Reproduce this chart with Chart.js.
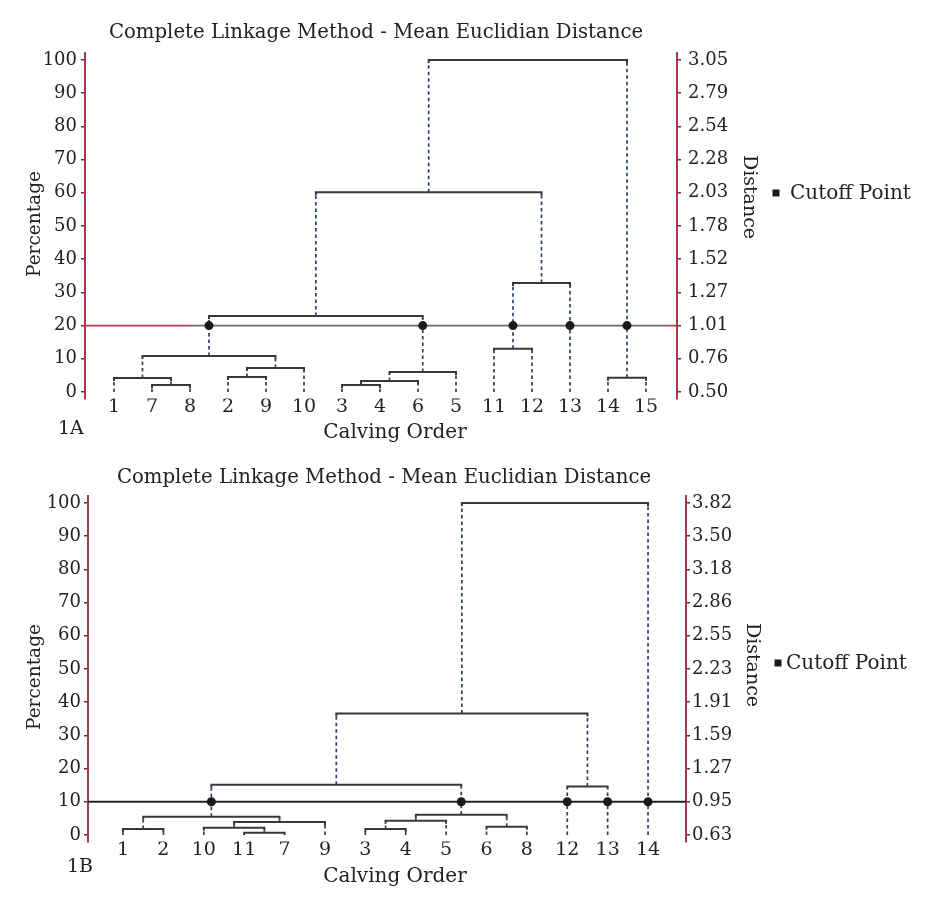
<!DOCTYPE html>
<html>
<head>
<meta charset="utf-8">
<script src="https://cdn.jsdelivr.net/npm/chart.js@4.4.1/dist/chart.umd.min.js"></script>
<style>
  body { margin: 0; background: #fff; }
  canvas { display: block; }
</style>
</head>
<body>
<canvas id="chartA" width="934" height="450"></canvas>
<canvas id="chartB" width="934" height="449"></canvas>
<script>
// ---- data ----
const percentTicks = [0, 10, 20, 30, 40, 50, 60, 70, 80, 90, 100];

// 1A
const leavesA = ['1', '7', '8', '2', '9', '10', '3', '4', '6', '5', '11', '12', '13', '14', '15'];
// [left, right, height in %]  (mN = result of merge N)
const mergesA = [
  ['7', '8', 2.1],
  ['1', 'm0', 4.2],
  ['2', '9', 4.5],
  ['m2', '10', 7.2],
  ['m1', 'm3', 10.8],
  ['3', '4', 2.1],
  ['m5', '6', 3.3],
  ['m6', '5', 6.0],
  ['m4', 'm7', 22.9],
  ['11', '12', 13.0],
  ['m9', '13', 32.8],
  ['m8', 'm10', 60.2],
  ['14', '15', 4.3],
  ['m11', 'm12', 100]
];
const cutoffA = 20;
const distanceA = ['0.50', '0.76', '1.01', '1.27', '1.52', '1.78', '2.03', '2.28', '2.54', '2.79', '3.05'];

// 1B
const leavesB = ['1', '2', '10', '11', '7', '9', '3', '4', '5', '6', '8', '12', '13', '14'];
const mergesB = [
  ['11', '7', 0.7],
  ['10', 'm0', 2.2],
  ['m1', '9', 3.9],
  ['1', '2', 1.8],
  ['m3', 'm2', 5.5],
  ['3', '4', 1.8],
  ['m5', '5', 4.3],
  ['6', '8', 2.5],
  ['m6', 'm7', 6.1],
  ['m4', 'm8', 15.1],
  ['12', '13', 14.6],
  ['m9', 'm10', 36.6],
  ['m11', '14', 100]
];
const cutoffB = 10;
const distanceB = ['0.63', '0.95', '1.27', '1.59', '1.91', '2.23', '2.55', '2.86', '3.18', '3.50', '3.82'];

const titleText = 'Complete Linkage Method - Mean Euclidian Distance';

// ---- styling ----
const axisRed = '#a4394a';
const tickRed = '#8c1c2e';
const ink = '#222';
Chart.defaults.font.family = '"DejaVu Serif", serif';
Chart.defaults.font.size = 18;
Chart.defaults.color = ink;

// turn merge list into bar / stem / dot point lists (leaf i sits at x = i + 1)
function buildTree(leaves, merges, cutoff) {
  const pos = {}, h = {};
  leaves.forEach((id, i) => { pos[id] = i + 1; h[id] = 0; });
  const bars = [], stems = [], dots = [];
  const hook = 0.9;
  merges.forEach(([a, b, ht], i) => {
    const id = 'm' + i;
    pos[id] = (pos[a] + pos[b]) / 2;
    h[id] = ht;
    const ha = Math.min(hook, ht - h[a]), hb = Math.min(hook, ht - h[b]);
    bars.push({x: pos[a], y: ht - ha}, {x: pos[a], y: ht}, {x: pos[b], y: ht}, {x: pos[b], y: ht - hb}, {x: pos[b], y: null});
    [[a, ha], [b, hb]].forEach(([c, hk]) => {
      stems.push({x: pos[c], y: h[c]}, {x: pos[c], y: ht - hk}, {x: pos[c], y: null});
      if (h[c] < cutoff && ht > cutoff) dots.push({x: pos[c], y: cutoff});
    });
  });
  return {bars, stems, dots};
}

// free text: title, axis names, legend, panel tag
const panelText = {
  id: 'panelText',
  afterDraw(chart, args, o) {
    const c = chart.ctx;
    o.items.forEach(t => {
      c.save();
      c.translate(t.x, t.y);
      c.rotate((t.rot || 0) * Math.PI / 180);
      c.font = (t.size || 18) + 'px "DejaVu Serif", serif';
      c.fillStyle = ink;
      c.textAlign = t.align || 'center';
      c.textBaseline = t.base || 'alphabetic';
      c.fillText(t.text, 0, 0);
      c.restore();
    });
    const k = o.key;
    c.fillStyle = '#1a1a1a';
    c.fillRect(k.x - 3.5, k.y - 3.5, 7, 7);
  }
};

function drawPanel(id, p) {
  const canvas = document.getElementById(id);
  const W = canvas.width, H = canvas.height;
  const box = p.box;
  const tree = buildTree(p.leaves, p.merges, p.cutoff);
  const cutLine = p.cutSplit.map(x => ({x: x, y: p.cutoff}));

  new Chart(canvas, {
    type: 'line',
    data: {
      datasets: [
        { data: tree.dots, showLine: false, pointRadius: 4.5, pointBackgroundColor: '#1a1a1a', pointBorderWidth: 0 },
        { data: tree.bars, borderColor: '#383838', borderWidth: 2, pointRadius: 0 },
        { data: tree.stems, borderColor: '#2e4068', borderWidth: 1.7, borderDash: [3.5, 3], pointRadius: 0 },
        { data: cutLine, borderWidth: 1.8, pointRadius: 0,
          segment: { borderColor: ctx => p.cutColors[ctx.p0DataIndex] } }
      ]
    },
    options: {
      responsive: false,
      animation: false,
      spanGaps: false,
      layout: { padding: { top: box.top, left: 0, right: 0, bottom: 0 } },
      plugins: {
        legend: { display: false },
        tooltip: { enabled: false },
        panelText: p.text
      },
      scales: {
        x: {
          type: 'linear', min: box.xMin, max: box.xMax,
          border: { display: false },
          grid: { display: false, drawTicks: false },
          afterFit: s => { s.height = H - box.bottom; },
          afterBuildTicks: s => { s.ticks = p.leaves.map((_, i) => ({value: i + 1})); },
          ticks: { callback: v => p.leaves[v - 1], autoSkip: false, maxRotation: 0, padding: -3, font: { size: 19 } }
        },
        y: {
          position: 'left', min: -2, max: 102,
          afterFit: s => { s.width = box.left; },
          afterBuildTicks: s => { s.ticks = percentTicks.map(v => ({value: v})); },
          border: { color: axisRed, width: 2 },
          grid: { drawOnChartArea: false, color: tickRed, tickLength: 4, lineWidth: 1.5 },
          ticks: { padding: p.padL }
        },
        y2: {
          position: 'right', min: -2, max: 102,
          afterFit: s => { s.width = W - box.right; },
          afterBuildTicks: s => { s.ticks = percentTicks.map(v => ({value: v})); },
          border: { color: axisRed, width: 2 },
          grid: { drawOnChartArea: false, color: tickRed, tickLength: 4, lineWidth: 1.5 },
          ticks: { padding: p.padR, callback: v => p.distance[Math.round(v / 10)] }
        }
      }
    },
    plugins: [panelText]
  });
}

drawPanel('chartA', {
  leaves: leavesA, merges: mergesA, cutoff: cutoffA, distance: distanceA,
  box: { left: 85, right: 677, top: 53.4, bottom: 398.6, xMin: 0.237, xMax: 15.816 },
  cutSplit: [0.237, 3.0, 15.55, 15.816],
  cutColors: ['#b5404f', '#6a6a6a', '#b5404f'],
  padL: 4, padR: 7,
  text: {
    items: [
      { text: titleText, x: 376, y: 38, size: 19.7 },
      { text: 'Percentage', x: 35, y: 224, rot: -90, base: 'middle', size: 18.5 },
      { text: 'Distance', x: 749, y: 197, rot: 90, base: 'middle', size: 19 },
      { text: 'Cutoff Point', x: 790, y: 194, align: 'left', base: 'middle', size: 20 },
      { text: '1A', x: 58, y: 434, align: 'left', size: 19 },
      { text: 'Calving Order', x: 395, y: 438, size: 20 }
    ],
    key: { x: 776, y: 193 }
  }
});

drawPanel('chartB', {
  leaves: leavesB, merges: mergesB, cutoff: cutoffB, distance: distanceB,
  box: { left: 88, right: 686, top: 46.4, bottom: 391.6, xMin: 0.133, xMax: 14.94 },
  cutSplit: [0.133, 14.94],
  cutColors: ['#222'],
  padL: 3, padR: 2,
  text: {
    items: [
      { text: titleText, x: 384, y: 33, size: 19.7 },
      { text: 'Percentage', x: 35, y: 227, rot: -90, base: 'middle', size: 18.5 },
      { text: 'Distance', x: 752, y: 215, rot: 90, base: 'middle', size: 19 },
      { text: 'Cutoff Point', x: 786, y: 214, align: 'left', base: 'middle', size: 20 },
      { text: '1B', x: 67, y: 422, align: 'left', size: 19 },
      { text: 'Calving Order', x: 395, y: 432, size: 20 }
    ],
    key: { x: 778, y: 213 }
  }
});
</script>
</body>
</html>
